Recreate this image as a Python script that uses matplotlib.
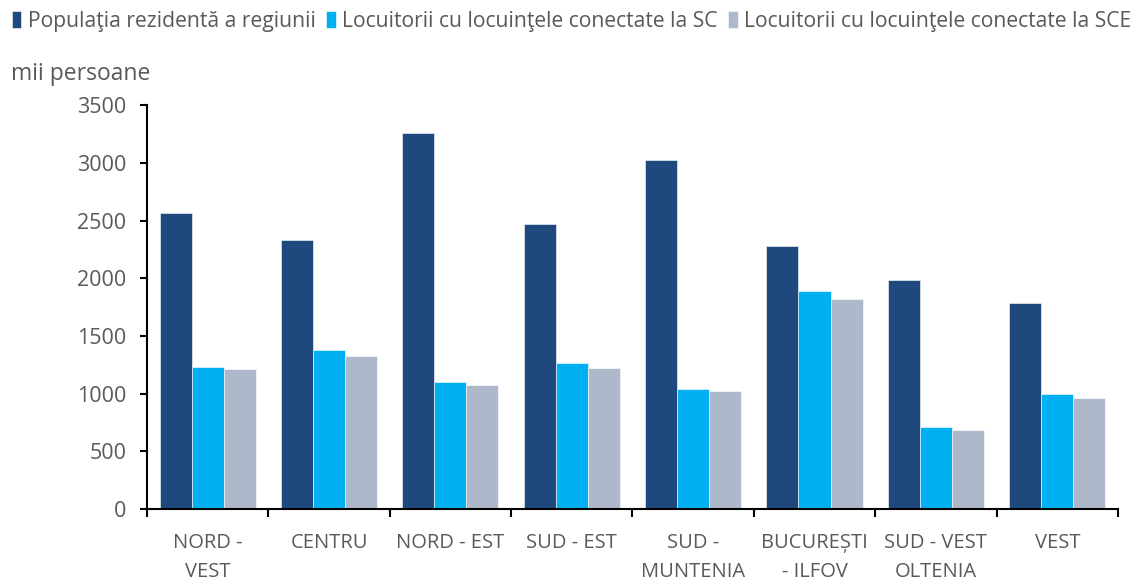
import matplotlib.pyplot as plt
import numpy as np

plt.rcParams['font.family'] = ['Open Sans', 'DejaVu Sans']

regiuni = ['NORD -\nVEST', 'CENTRU', 'NORD - EST', 'SUD - EST', 'SUD -\nMUNTENIA',
           'BUCUREȘTI\n- ILFOV', 'SUD - VEST\nOLTENIA', 'VEST']
populatie = [2566, 2335, 3258, 2468, 3023, 2280, 1988, 1788]
conectati_sc = [1232, 1380, 1099, 1264, 1042, 1889, 708, 998]
conectati_sce = [1212, 1322, 1076, 1221, 1021, 1823, 686, 966]

serii = ['Populaţia rezidentă a regiunii',
         'Locuitorii cu locuinţele conectate la SC',
         'Locuitorii cu locuinţele conectate la SCE']
culori = ['#1F497D', '#00B0F0', '#ADB9CA']
gri = '#595959'

fig = plt.figure(figsize=(11.41, 5.81), dpi=100)
ax = fig.add_axes([0.1288, 0.124, 0.851, 0.695])

x = np.arange(len(regiuni))
w = 0.264
for i, (vals, c, nume) in enumerate(zip([populatie, conectati_sc, conectati_sce], culori, serii)):
    ax.bar(x + (i - 1) * w, vals, w, color=c, label=nume, edgecolor='white', linewidth=0.4)

ax.set_xlim(-0.5, len(regiuni) - 0.5)
ax.set_ylim(0, 3500)
ax.set_yticks(np.arange(0, 3501, 500))
ax.set_xticks(x)
ax.set_xticklabels(regiuni, color=gri, fontsize=14.5, linespacing=1.6)
ax.set_xticks(np.arange(-0.5, len(regiuni)), minor=True)
ax.tick_params(axis='x', which='major', length=0, pad=17)
ax.tick_params(axis='x', which='minor', length=6, width=1.5, direction='out')
ax.tick_params(axis='y', length=5, width=1.5, labelsize=15.5, labelcolor=gri, pad=10)

for s in ['top', 'right']:
    ax.spines[s].set_visible(False)
for s in ['left', 'bottom']:
    ax.spines[s].set_linewidth(1.5)

fig.text(0.010, 0.872, 'mii persoane', fontsize=16.5, color=gri, va='center')

leg = fig.legend(loc='center left', bbox_to_anchor=(0.003, 0.963), ncol=3, frameon=False,
                 fontsize=15.2, handlelength=0.45, handleheight=0.9, handletextpad=0.3,
                 columnspacing=0.5, borderaxespad=0)
for t in leg.get_texts():
    t.set_color(gri)

fig.savefig('out.png', dpi=100)
